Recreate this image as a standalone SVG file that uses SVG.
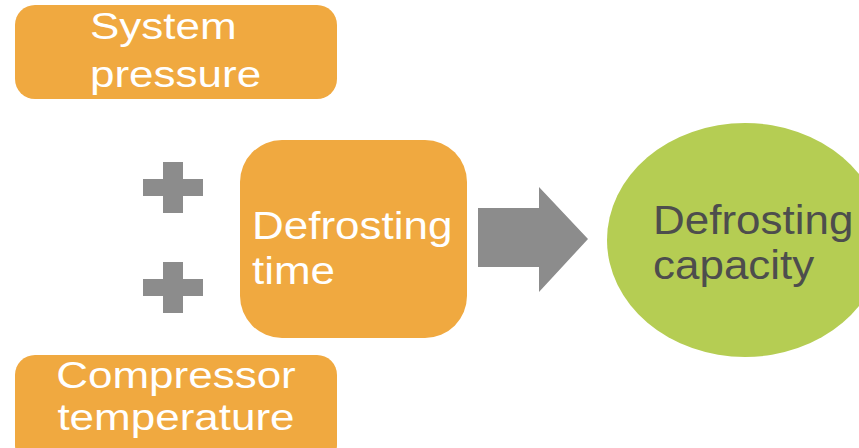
<svg xmlns="http://www.w3.org/2000/svg" width="859" height="448" viewBox="0 0 859 448">
  <style>
    .box { fill: #F0A940; }
    .wt { font-family: "Liberation Sans", Arial, sans-serif; font-size: 44px; fill: #FFFFFF; }
    .dk { font-family: "Liberation Sans", Arial, sans-serif; font-size: 44px; fill: #4D4D4D; }
    .gray { fill: #8C8C8C; }
  </style>
  <rect width="859" height="448" fill="#FFFFFF"/>
  <g id="system-pressure">
    <rect class="box" x="15" y="5" width="322" height="94" rx="20"/>
    <g transform="translate(0,39) scale(1,0.83)"><text class="wt" x="90" y="0">System</text></g>
    <g transform="translate(0,87) scale(1,0.83)"><text class="wt" x="90" y="0">pressure</text></g>
  </g>
  <g id="compressor-temperature">
    <rect class="box" x="15" y="355" width="322" height="110" rx="20"/>
    <g transform="translate(0,388) scale(1,0.83)"><text class="wt" x="176" y="0" text-anchor="middle">Compressor</text></g>
    <g transform="translate(0,430) scale(1,0.83)"><text class="wt" x="176" y="0" text-anchor="middle">temperature</text></g>
  </g>
  <g id="plus-signs">
    <path class="gray" d="M163,162 H183 V179 H203 V196 H183 V213 H163 V196 H143 V179 H163 Z"/>
    <path class="gray" d="M163,262 H183 V279 H203 V296 H183 V313 H163 V296 H143 V279 H163 Z"/>
  </g>
  <g id="defrosting-time">
    <rect class="box" x="240" y="140" width="227" height="198" rx="42"/>
    <g transform="translate(0,239) scale(1,0.9)"><text class="wt" x="252" y="0">Defrosting</text></g>
    <g transform="translate(0,284) scale(1,0.9)"><text class="wt" x="252" y="0">time</text></g>
  </g>
  <g id="connectors">
    <polygon class="gray" points="478,208 539,208 539,187 588,239 539,292 539,267 478,267"/>
  </g>
  <g id="defrosting-capacity">
    <ellipse cx="745" cy="240" rx="138" ry="117" fill="#B5CD53"/>
    <g transform="translate(0,234) scale(1,0.93)"><text class="dk" x="653" y="0">Defrosting</text></g>
    <g transform="translate(0,279) scale(1,0.93)"><text class="dk" x="653" y="0">capacity</text></g>
  </g>
</svg>
